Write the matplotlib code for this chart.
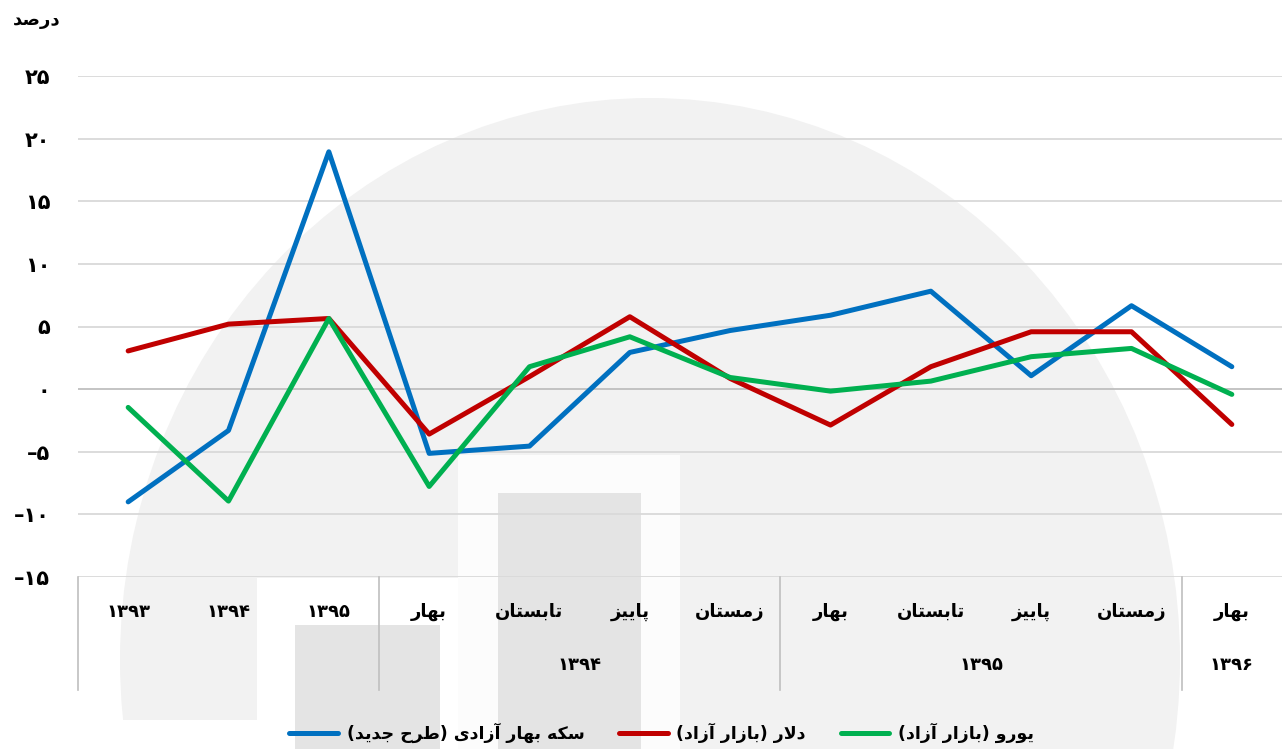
import matplotlib
matplotlib.use("Agg")
import matplotlib.pyplot as plt
from matplotlib.patches import Ellipse, Rectangle
from matplotlib.lines import Line2D

# داده ها
quarters = ["۱۳۹۳", "۱۳۹۴", "۱۳۹۵", "بهار", "تابستان", "پاییز", "زمستان",
            "بهار", "تابستان", "پاییز", "زمستان", "بهار"]
groups = ["۱۳۹۴", "۱۳۹۵", "۱۳۹۶"]
sekke = [-9.0, -3.3, 18.95, -5.13, -4.55, 2.93, 4.68, 5.9, 7.82, 1.07, 6.66, 1.79]
dollar = [3.05, 5.19, 5.64, -3.59, 1.0, 5.78, 0.85, -2.87, 1.79, 4.58, 4.58, -2.82]
euro = [-1.46, -8.94, 5.64, -7.77, 1.79, 4.18, 0.93, -0.16, 0.64, 2.59, 3.25, -0.42]
yticks = [-15, -10, -5, 0, 5, 10, 15, 20, 25]
series_names = ["سکه بهار آزادی (طرح جدید)", "دلار (بازار آزاد)", "یورو (بازار آزاد)"]

# شکل دهی حروف فارسی (matplotlib خودش این کار را نمی کند)
FORMS = {
    "ا": ("\uFE8D", "\uFE8E", None, None), "آ": ("\uFE81", "\uFE82", None, None),
    "ب": ("\uFE8F", "\uFE90", "\uFE91", "\uFE92"), "پ": ("\uFB56", "\uFB57", "\uFB58", "\uFB59"),
    "ت": ("\uFE95", "\uFE96", "\uFE97", "\uFE98"), "ج": ("\uFE9D", "\uFE9E", "\uFE9F", "\uFEA0"),
    "ح": ("\uFEA1", "\uFEA2", "\uFEA3", "\uFEA4"), "د": ("\uFEA9", "\uFEAA", None, None),
    "ر": ("\uFEAD", "\uFEAE", None, None), "ز": ("\uFEAF", "\uFEB0", None, None),
    "س": ("\uFEB1", "\uFEB2", "\uFEB3", "\uFEB4"), "ص": ("\uFEB9", "\uFEBA", "\uFEBB", "\uFEBC"),
    "ط": ("\uFEC1", "\uFEC2", "\uFEC3", "\uFEC4"), "ک": ("\uFB8E", "\uFB8F", "\uFB90", "\uFB91"),
    "ل": ("\uFEDD", "\uFEDE", "\uFEDF", "\uFEE0"), "م": ("\uFEE1", "\uFEE2", "\uFEE3", "\uFEE4"),
    "ن": ("\uFEE5", "\uFEE6", "\uFEE7", "\uFEE8"), "ه": ("\uFEE9", "\uFEEA", "\uFEEB", "\uFEEC"),
    "و": ("\uFEED", "\uFEEE", None, None), "ی": ("\uFBFC", "\uFBFD", "\uFBFE", "\uFBFF"),
}
LAMALEF = {"ا": ("\uFEFB", "\uFEFC"), "آ": ("\uFEF5", "\uFEF6")}
MIRROR = {"(": ")", ")": "("}


def dual(c):
    return c in FORMS and FORMS[c][2] is not None


def fa(s):
    # اعداد فارسی چپ به راست نوشته می شوند، دست نمی زنیم
    if all(ch in "۰۱۲۳۴۵۶۷۸۹–" for ch in s):
        return s
    out = []
    i = 0
    while i < len(s):
        c = s[i]
        prev = s[i - 1] if i > 0 else ""
        nxt = s[i + 1] if i + 1 < len(s) else ""
        if c not in FORMS:
            out.append(c)
            i += 1
            continue
        cp = dual(prev)
        if c == "ل" and nxt in LAMALEF:
            out.append(LAMALEF[nxt][1 if cp else 0])
            i += 2
            continue
        cn = dual(c) and nxt in FORMS
        f = FORMS[c]
        if cp and cn:
            out.append(f[3])
        elif cp:
            out.append(f[1])
        elif cn:
            out.append(f[2])
        else:
            out.append(f[0])
        i += 1
    return "".join(MIRROR.get(c, c) for c in reversed(out))


def fa_num(v):
    d = "".join("۰۱۲۳۴۵۶۷۸۹"[int(ch)] for ch in str(abs(v)))
    return ("–" + d) if v < 0 else d


plt.rcParams["font.family"] = ["DejaVu Sans"]
plt.rcParams["font.weight"] = "bold"

W, H = 1282, 749
fig = plt.figure(figsize=(W / 100, H / 100), dpi=100)

# واترمارک پس زمینه
bg = fig.add_axes([0, 0, 1, 1], zorder=0)
bg.set_xlim(0, W)
bg.set_ylim(H, 0)
bg.axis("off")
bg.add_patch(Ellipse((650, 660), 1060, 1124, color="#f2f2f2", lw=0))
bg.add_patch(Rectangle((0, 720), 458, 40, color="white", lw=0))
bg.add_patch(Rectangle((257, 578), 201, 180, color="white", lw=0))
bg.add_patch(Rectangle((458, 455), 222, 300, color="#fcfcfc", lw=0))
bg.add_patch(Rectangle((295, 625), 145, 130, color="#e4e4e4", lw=0))
bg.add_patch(Rectangle((498, 493), 143, 260, color="#e4e4e4", lw=0))

ax = fig.add_axes([78 / W, 1 - 577 / H, 1 - 78 / W, (577 - 76) / H], zorder=1)
ax.set_facecolor("none")
x = list(range(len(quarters)))
ax.plot(x, sekke, color="#0070C0", lw=3.6, label=fa(series_names[0]), solid_capstyle="round")
ax.plot(x, dollar, color="#C00000", lw=3.6, label=fa(series_names[1]), solid_capstyle="round")
ax.plot(x, euro, color="#00B050", lw=3.6, label=fa(series_names[2]), solid_capstyle="round")

ax.set_xlim(-0.5, len(quarters) - 0.5)
ax.set_ylim(-15, 25)
ax.set_yticks(yticks)
ax.set_yticklabels([fa_num(v) for v in yticks], fontsize=15, fontweight="bold")
ax.tick_params(axis="y", length=0, pad=20)
ax.set_xticks([])
for v in yticks:
    ax.axhline(v, color="#bfbfbf" if v == 0 else "#d9d9d9", lw=1.3, zorder=0.5)
for s in ["top", "right", "left", "bottom"]:
    ax.spines[s].set_visible(False)

# محور دسته ای دو سطحی
trans = ax.get_xaxis_transform()
axh = 577 - 76
for i, q in enumerate(quarters):
    ax.text(i, -35 / axh, fa(q), transform=trans, ha="center", va="center",
            fontsize=13, fontweight="bold")
for g, xc in zip(groups, [4.5, 8.5, 11]):
    ax.text(xc, -88 / axh, g, transform=trans, ha="center", va="center",
            fontsize=13, fontweight="bold")
for xs in [-0.5, 2.5, 6.5, 10.5]:
    ax.add_line(Line2D([xs, xs], [0, -113 / axh], transform=trans, color="#bfbfbf",
                       lw=1.2, clip_on=False))

fig.text(13 / W, 1 - 20 / H, fa("درصد"), ha="left", va="center", fontsize=13, fontweight="bold")

fig.legend(loc="center", bbox_to_anchor=(0.516, 1 - 733 / H), ncol=3, frameon=False,
           fontsize=12.5, handlelength=2.8, columnspacing=2.0, handletextpad=0.5)

fig.savefig("out.png", dpi=100)
